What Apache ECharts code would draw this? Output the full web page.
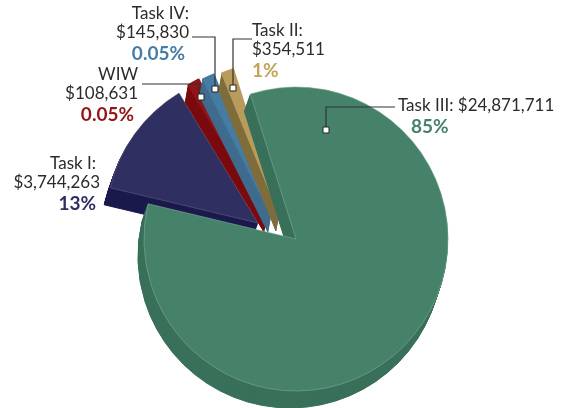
<!DOCTYPE html>
<html>
<head>
<meta charset="utf-8">
<style>
  html, body { margin: 0; padding: 0; background: #fff; }
  #pieChart { width: 564px; height: 408px; }
</style>
<script src="https://cdn.jsdelivr.net/npm/echarts@6/dist/echarts.min.js"></script>
</head>
<body>
<div id="pieChart"></div>
<script>
const taskNames = ["Task III", "Task I", "WIW", "Task IV", "Task II"];
const taskValues = [24871711, 3744263, 108631, 145830, 354511];
const nameLabels = ["Task III:", "Task I:", "WIW", "Task IV:", "Task II:"];
const moneyLabels = ["$24,871,711", "$3,744,263", "$108,631", "$145,830", "$354,511"];
const percentLabels = ["85%", "13%", "0.05%", "0.05%", "1%"];

// look of each slice, same order as taskNames
const faceColors = ["#46826a", "#302f62", "#8f1519", "#467ba3", "#b99c5b"];
const wallColors = ["#39705a", "#1b1a4d", "#7a0a0d", "#3f6c8e", "#7f6d3c"];
const edgeColors = ["#7fa898", "#5f5e88", "#8f1519", "#467ba3", "#b99c5b"];
const edgeWidths = [0.6, 0.6, 1.5, 1.5, 1.5];
const textColors = ["#46826a", "#302f62", "#931518", "#457da6", "#c3a45a"];
const sliceCenters = [[296, 239], [258, 223], [267, 215], [271, 215], [279, 214]];
const depthShifts = [-6, -6, -3, -3, -3];
const drawOrder = [1, 2, 3, 4, 0];

// label block and leader line for each slice
const labelSpots = [
  { x: 398, y: 96, align: "left", line: [[395, 107], [326, 107], [326, 130]] },
  { x: 100, y: 154, align: "right" },
  { x: 138, y: 65, align: "right", line: [[142, 84], [199, 84], [199, 92], [201, 97]] },
  { x: 189, y: 4, align: "right", line: [[192, 37], [215, 37], [215, 89]] },
  { x: 252, y: 21, align: "left", line: [[252, 39], [233, 39], [233, 88]] },
];

const RADIUS = 152;
const DEPTH = 17;

function sliceData(index, style, withLabel) {
  return taskValues.map((value, i) => {
    const item = { name: taskNames[i], value: value };
    if (i !== index) {
      item.itemStyle = { color: "transparent", borderWidth: 0 };
      return item;
    }
    item.itemStyle = style;
    if (withLabel) item.label = { show: true };
    return item;
  });
}

function labelText(i) {
  const percentStyle = i === 0 ? "pc" : labelSpots[i].align === "right" ? "pr" : "p";
  const percent = "{" + percentStyle + "|" + percentLabels[i] + "}";
  if (i === 0) return "{t|" + nameLabels[i] + " " + moneyLabels[i] + "}\n" + percent;
  const nameStyle = i === 1 ? "tn" : "t";
  return "{" + nameStyle + "|" + nameLabels[i] + "}\n{t|" + moneyLabels[i] + "}\n" + percent;
}

function basePie(center) {
  return {
    type: "pie",
    silent: true,
    animation: false,
    clockwise: true,
    startAngle: 107.5,
    minAngle: 4.6,
    radius: [0, RADIUS],
    center: center,
    avoidLabelOverlap: false,
  };
}

const series = [];
drawOrder.forEach((i) => {
  const c = sliceCenters[i];
  for (let k = DEPTH; k >= 1; k--) {
    series.push(Object.assign(basePie([c[0] + (depthShifts[i] * k) / DEPTH, c[1] + k]), {
      data: sliceData(i, { color: wallColors[i], borderColor: wallColors[i], borderWidth: 1 }, false),
      label: { show: false },
      labelLine: { show: false },
    }));
  }
  const spot = labelSpots[i];
  const textBase = { fontFamily: "Lato", fontSize: 17, color: "#2b2b2b", lineHeight: 19 };
  const percentBase = { fontFamily: "Lato", fontSize: 19, fontWeight: "bold", color: textColors[i], lineHeight: 23 };
  series.push(Object.assign(basePie(c), {
    data: sliceData(i, { color: faceColors[i], borderColor: edgeColors[i], borderWidth: edgeWidths[i] }, true),
    label: {
      show: false,
      position: "outside",
      formatter: () => labelText(i),
      align: spot.align,
      rich: {
        t: Object.assign({ align: spot.align }, textBase),
        tn: Object.assign({ align: "right", padding: [0, 4, 0, 0] }, textBase),
        p: Object.assign({ align: "left" }, percentBase),
        pr: Object.assign({ align: "right", padding: [0, 4, 0, 0] }, percentBase),
        pc: Object.assign({ align: "left", padding: [0, 0, 0, 13] }, percentBase),
      },
    },
    labelLine: { show: false },
    labelLayout: (params) => {
      if (params.dataIndex !== i) return {};
      return { x: spot.x, y: spot.y, align: spot.align, verticalAlign: "top" };
    },
  }));
});

// leader lines and the small white squares where they end
const leaders = [];
labelSpots.filter((s) => s.line).forEach((s) => {
  const end = s.line[s.line.length - 1];
  leaders.push({
    type: "polyline",
    z: 1000,
    silent: true,
    shape: { points: s.line },
    style: { fill: null, stroke: "#333", lineWidth: 1.2 },
  });
  leaders.push({
    type: "rect",
    z: 1001,
    silent: true,
    shape: { x: end[0] - 3, y: end[1] - 3, width: 6, height: 6 },
    style: { fill: "#fff", stroke: "#222", lineWidth: 1 },
  });
});

const chart = echarts.init(document.getElementById("pieChart"), null, { renderer: "canvas" });
chart.setOption({
  backgroundColor: "#fff",
  animation: false,
  tooltip: { show: false },
  series: series,
  graphic: leaders,
});
</script>
</body>
</html>
